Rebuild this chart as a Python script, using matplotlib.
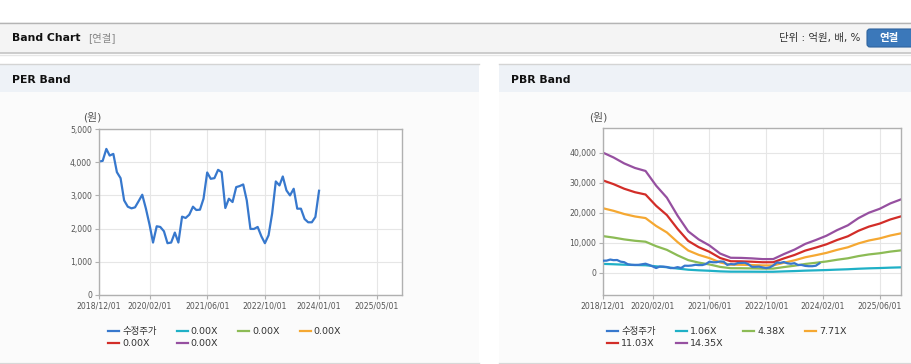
import numpy as np
import pandas as pd
import matplotlib
matplotlib.use('Agg')
import matplotlib.pyplot as plt
import matplotlib.dates as mdates
from matplotlib.patches import Rectangle, FancyBboxPatch

plt.rcParams['font.family'] = ['DejaVu Sans', 'Noto Sans CJK KR']

# monthly adjusted price (won), 2018/12 .. 2024/01
price_dates = pd.date_range('2018-12-01', periods=62, freq='MS')
price = [4020, 4040, 4400, 4200, 4250, 3700, 3520, 2850, 2660, 2610,
         2640, 2830, 3020, 2600, 2110, 1580, 2070, 2050, 1920, 1560,
         1580, 1880, 1580, 2360, 2320, 2420, 2660, 2560, 2570, 2900,
         3690, 3500, 3520, 3770, 3700, 2620, 2900, 2800, 3250, 3280,
         3330, 2850, 1990, 1990, 2050, 1770, 1560, 1800, 2450, 3420,
         3300, 3570, 3150, 3000, 3200, 2600, 2600, 2290, 2190, 2190,
         2350, 3140]

# quarterly BPS (won), 2018/12 .. 2025/12
bps_dates = pd.date_range('2018-12-01', '2025-12-01', freq='3MS')
bps = [2787, 2676, 2537, 2432, 2362, 2021, 1742, 1324, 962, 774,
       634, 446, 348, 345, 334, 317, 318, 432, 537, 669,
       760, 859, 990, 1101, 1268, 1394, 1484, 1610, 1703]

pbr_mult = [1.06, 4.38, 7.71, 11.03, 14.35]
per_labels = ['0.00X'] * 5

band_colors = ['#1fb0c6', '#8cbb55', '#f5a832', '#d22d28', '#9650a0']
price_color = '#3778cd'

per_ticks = ['2018-12-01', '2020-02-01', '2021-06-01', '2022-10-01', '2024-01-01', '2025-05-01']
pbr_ticks = ['2018-12-01', '2020-02-01', '2021-06-01', '2022-10-01', '2024-02-01', '2025-06-01']

W, H = 912, 364
fig = plt.figure(figsize=(W / 100, H / 100), dpi=100)
fig.patch.set_facecolor('white')

# page background drawn in pixel coordinates
bg = fig.add_axes([0, 0, 1, 1], zorder=-10)
bg.set_xlim(0, W)
bg.set_ylim(H, 0)
bg.axis('off')

bg.add_patch(Rectangle((0, 22), W, 31, facecolor='#f4f4f4', edgecolor='none'))
bg.plot([0, W], [22.5, 22.5], color='#b4b4b4', lw=1)
bg.plot([0, W], [53, 53], color='#c4c4c4', lw=1.2)
bg.plot([0, W], [54.5, 54.5], color='#e6e6e6', lw=1)
bg.text(12, 38, 'Band Chart', fontsize=7.8, fontweight='bold', va='center', color='#111111')
bg.text(88, 38, '[연결]', fontsize=7.5, va='center', color='#888888')
bg.text(860, 38, '단위 : 억원, 배, %', fontsize=7.5, va='center', ha='right', color='#333333')
bg.add_patch(FancyBboxPatch((867, 29), 50, 18, boxstyle='round,pad=0,rounding_size=3',
                            facecolor='#3b78ba', edgecolor='#2f649e', lw=0.8))
bg.text(889, 38, '연결', fontsize=7.5, fontweight='bold', va='center', ha='center', color='white')

for x0, x1, title in [(0, 479, 'PER Band'), (499, W, 'PBR Band')]:
    bg.add_patch(Rectangle((x0, 64), x1 - x0, 28, facecolor='#eef2f7', edgecolor='none'))
    bg.add_patch(Rectangle((x0, 92), x1 - x0, 270, facecolor='#fbfbfb', edgecolor='none'))
    bg.plot([x0, x1], [64, 64], color='#d4d4d4', lw=1)
    bg.plot([x0, x1], [362.5, 362.5], color='#d8d8d8', lw=1)
    bg.text(x0 + 12, 80, title, fontsize=7.8, fontweight='bold', va='center', color='#111111')


def style_axes(ax, ticks):
    ax.set_facecolor('white')
    for s in ax.spines.values():
        s.set_color('#b0b0b0')
        s.set_linewidth(1)
    ax.grid(True, color='#e6e6e6', lw=0.8)
    ax.set_axisbelow(True)
    ax.set_xlim(pd.Timestamp('2018-12-01'), pd.Timestamp('2025-12-01'))
    ax.set_xticks([pd.Timestamp(t) for t in ticks])
    ax.xaxis.set_major_formatter(mdates.DateFormatter('%Y/%m/%d'))
    ax.yaxis.set_major_formatter(matplotlib.ticker.FuncFormatter(lambda v, p: f'{int(v):,}'))
    ax.tick_params(labelsize=5.6, colors='#555555', length=3, width=0.8, pad=2)
    ax.tick_params(axis='x', color='#b0b0b0')
    ax.tick_params(axis='y', color='#b0b0b0')


def add_legend(handles, labels, x):
    order = [0, 4, 1, 5, 2, 3]
    fig.legend([handles[i] for i in order], [labels[i] for i in order],
               loc='upper left', bbox_to_anchor=(x / W, 1 - 327 / H), ncol=4,
               frameon=False, fontsize=6.8, handlelength=1.2, handletextpad=0.3,
               columnspacing=2.1, labelspacing=0.35, borderpad=0, borderaxespad=0,
               labelcolor='#333333')


# PER band
ax1 = fig.add_axes([99 / W, 1 - 295 / H, 303 / W, 166 / H])
style_axes(ax1, per_ticks)
ax1.set_ylim(0, 5000)
ax1.set_yticks(range(0, 5001, 1000))
hp, = ax1.plot(price_dates, price, color=price_color, lw=1.6)
handles = [hp]
for c in band_colors:
    h, = ax1.plot([], [], color=c, lw=1.6)
    handles.append(h)
fig.text(83 / W, 1 - 117 / H, '(원)', fontsize=7.8, va='center', color='#555555')
add_legend(handles, ['수정주가'] + per_labels, 108)

# PBR band
ax2 = fig.add_axes([603 / W, 1 - 295 / H, 298 / W, 167 / H])
style_axes(ax2, pbr_ticks)
ax2.set_ylim(-7400, 48200)
ax2.set_yticks(range(0, 40001, 10000))
bps_arr = np.array(bps)
hp2, = ax2.plot(price_dates, price, color=price_color, lw=1.6, zorder=3)
handles2 = [hp2]
for m, c in zip(pbr_mult, band_colors):
    h, = ax2.plot(bps_dates, bps_arr * m, color=c, lw=1.6)
    handles2.append(h)
fig.text(589 / W, 1 - 117 / H, '(원)', fontsize=7.8, va='center', color='#555555')
add_legend(handles2, ['수정주가'] + [f'{m:.2f}X' for m in pbr_mult], 607)

fig.savefig('out.png', dpi=100)
